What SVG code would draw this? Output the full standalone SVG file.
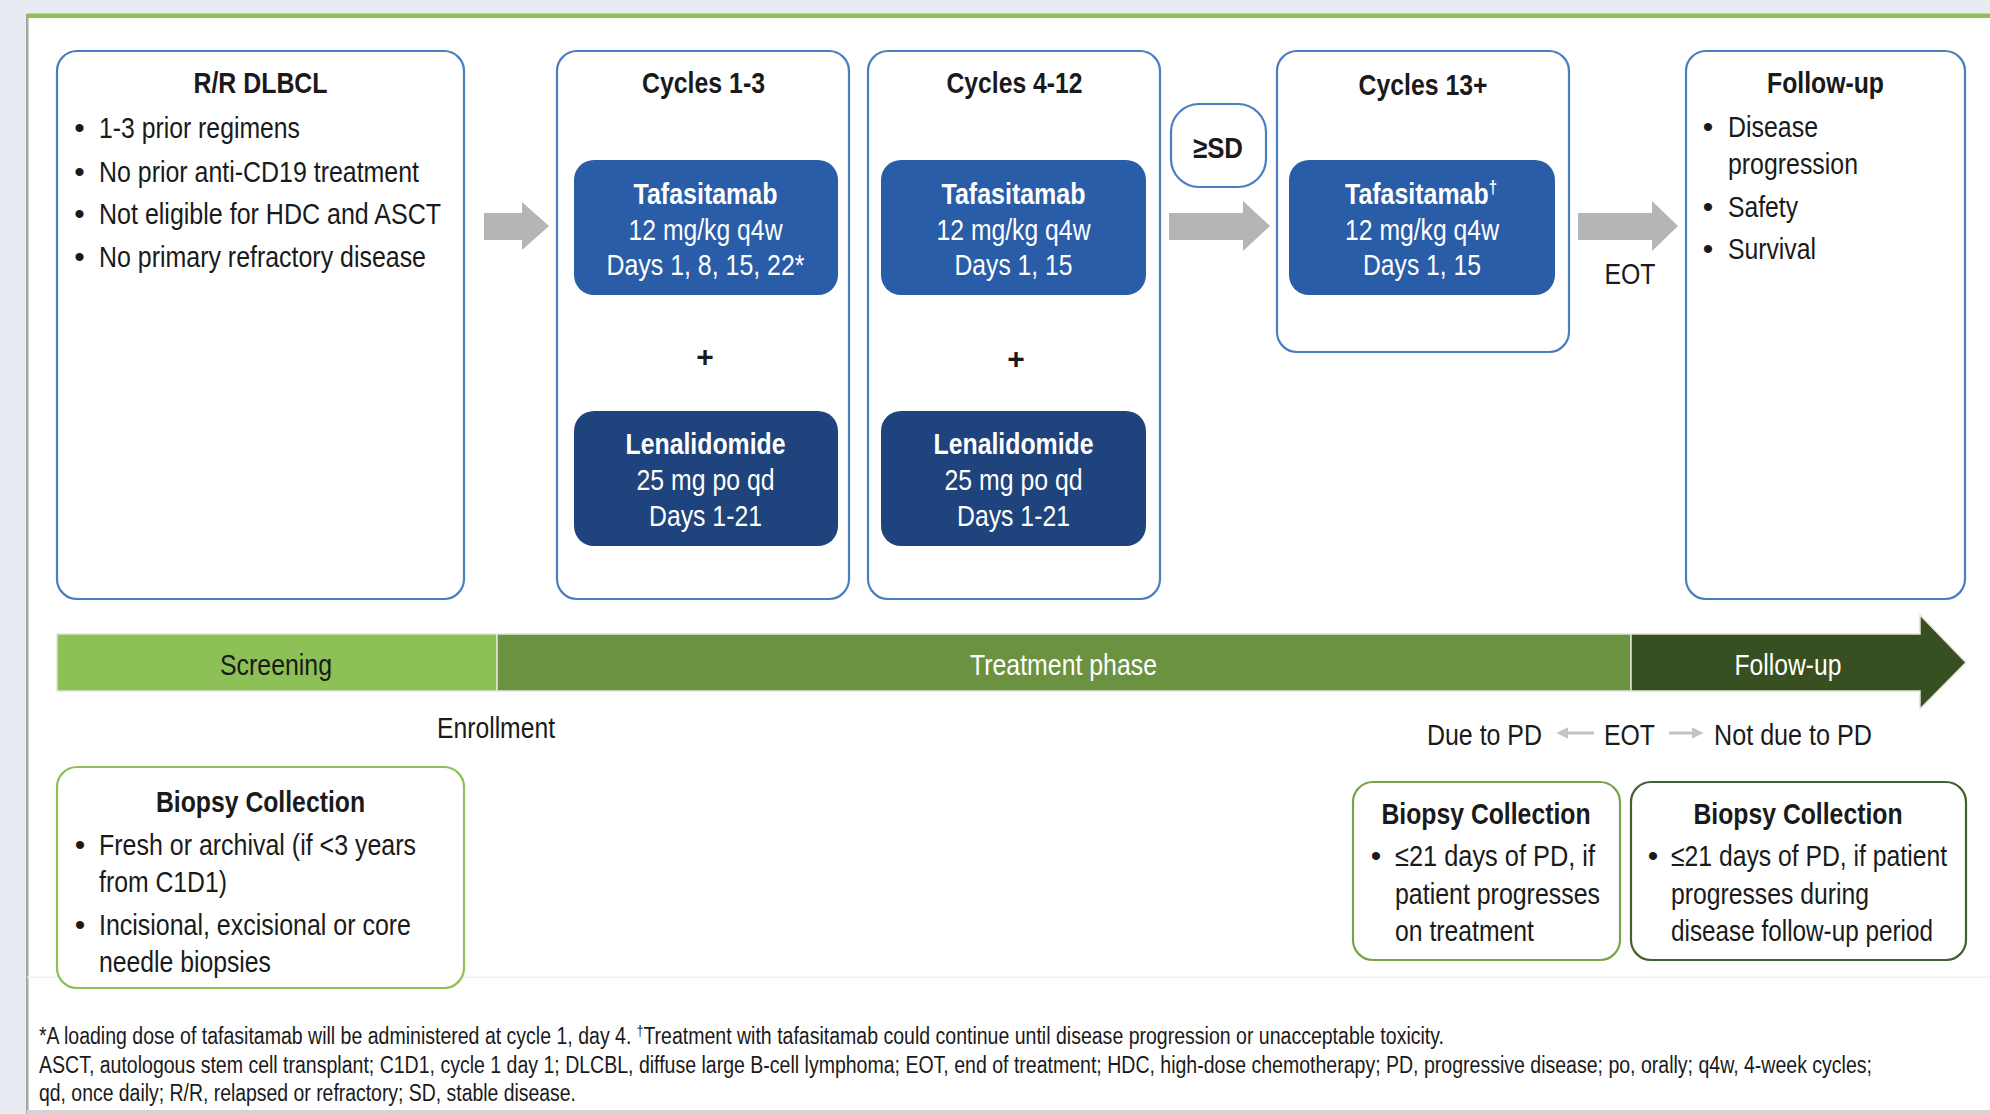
<svg xmlns="http://www.w3.org/2000/svg" width="1990" height="1114" viewBox="0 0 1990 1114">
<style>
.t{font-family:"Liberation Sans",Arial,sans-serif;font-size:30px;fill:#1a1a1a}
.b{font-weight:bold}
.w{fill:#ffffff}
.m{text-anchor:middle}
.fn{font-size:23px}
.bx{fill:#ffffff;stroke:#4a7ebf;stroke-width:2.2}
.tf{fill:#2a5da8}
.le{fill:#1f437c}
.arr{fill:#b5b5b5}
.sm{stroke:#c4c4c4;stroke-width:3;fill:none;marker-end:url(#ah)}
.g1{fill:#ffffff;stroke:#8dc056;stroke-width:2.2}
.g2{fill:#ffffff;stroke:#79a34b;stroke-width:2.2}
.g3{fill:#ffffff;stroke:#45602f;stroke-width:2.2}
.bar{stroke:#dfe5d9;stroke-width:1.5}
</style>
<defs>
<marker id="ah" viewBox="0 0 10 10" refX="2" refY="5" markerWidth="4" markerHeight="4" orient="auto" markerUnits="strokeWidth">
<path d="M0,0 L10,5 L0,10 z" fill="#c4c4c4"/>
</marker>
</defs>
<rect x="0" y="0" width="1990" height="1114" fill="#e8ecf2"/>
<rect x="27" y="14" width="1963" height="1097" fill="#ffffff"/>
<rect x="26" y="14" width="2.5" height="1100" fill="#a6a6a6"/>
<rect x="27" y="13.5" width="1963" height="4.5" fill="#8cc152"/>
<rect x="27" y="976.5" width="1963" height="1.5" fill="#efefef"/>
<rect x="27" y="1110" width="1963" height="4" fill="#d4d4d4"/>

<g id="node-rr-dlbcl">
<rect class="bx" x="57" y="51" width="407" height="548" rx="20"/>
<text class="t b m" x="260.5" y="93" textLength="134" lengthAdjust="spacingAndGlyphs">R/R DLBCL</text>
<text class="t m" x="79.5" y="138">•</text>
<text class="t" x="99" y="138" textLength="201" lengthAdjust="spacingAndGlyphs">1-3 prior regimens</text>
<text class="t m" x="79.5" y="182">•</text>
<text class="t" x="99" y="182" textLength="320" lengthAdjust="spacingAndGlyphs">No prior anti-CD19 treatment</text>
<text class="t m" x="79.5" y="224">•</text>
<text class="t" x="99" y="224" textLength="342" lengthAdjust="spacingAndGlyphs">Not eligible for HDC and ASCT</text>
<text class="t m" x="79.5" y="267">•</text>
<text class="t" x="99" y="267" textLength="327" lengthAdjust="spacingAndGlyphs">No primary refractory disease</text>
</g>

<g id="node-cycles-1-3">
<rect class="bx" x="557" y="51" width="292" height="548" rx="20"/>
<text class="t b m" x="703.5" y="93" textLength="123" lengthAdjust="spacingAndGlyphs">Cycles 1-3</text>
<rect class="tf" x="574" y="160" width="264" height="135" rx="20"/>
<text class="t b w m" x="705.5" y="204" textLength="144" lengthAdjust="spacingAndGlyphs">Tafasitamab</text>
<text class="t w m" x="705.5" y="240" textLength="154" lengthAdjust="spacingAndGlyphs">12 mg/kg q4w</text>
<text class="t w m" x="705.5" y="275" textLength="198" lengthAdjust="spacingAndGlyphs">Days 1, 8, 15, 22*</text>
<text class="t b m" x="705" y="367">+</text>
<rect class="le" x="574" y="411" width="264" height="135" rx="20"/>
<text class="t b w m" x="705.5" y="454" textLength="160" lengthAdjust="spacingAndGlyphs">Lenalidomide</text>
<text class="t w m" x="705.5" y="490" textLength="138" lengthAdjust="spacingAndGlyphs">25 mg po qd</text>
<text class="t w m" x="705.5" y="526" textLength="113" lengthAdjust="spacingAndGlyphs">Days 1-21</text>
</g>

<g id="node-cycles-4-12">
<rect class="bx" x="868" y="51" width="292" height="548" rx="20"/>
<text class="t b m" x="1014.5" y="93" textLength="136" lengthAdjust="spacingAndGlyphs">Cycles 4-12</text>
<rect class="tf" x="881" y="160" width="265" height="135" rx="20"/>
<text class="t b w m" x="1013.5" y="204" textLength="144" lengthAdjust="spacingAndGlyphs">Tafasitamab</text>
<text class="t w m" x="1013.5" y="240" textLength="154" lengthAdjust="spacingAndGlyphs">12 mg/kg q4w</text>
<text class="t w m" x="1013.5" y="275" textLength="118" lengthAdjust="spacingAndGlyphs">Days 1, 15</text>
<text class="t b m" x="1016" y="369">+</text>
<rect class="le" x="881" y="411" width="265" height="135" rx="20"/>
<text class="t b w m" x="1013.5" y="454" textLength="160" lengthAdjust="spacingAndGlyphs">Lenalidomide</text>
<text class="t w m" x="1013.5" y="490" textLength="138" lengthAdjust="spacingAndGlyphs">25 mg po qd</text>
<text class="t w m" x="1013.5" y="526" textLength="113" lengthAdjust="spacingAndGlyphs">Days 1-21</text>
</g>

<g id="node-sd">
<rect class="bx" x="1171" y="104" width="95" height="83" rx="28"/>
<text class="t b m" x="1218" y="158" textLength="50" lengthAdjust="spacingAndGlyphs">≥SD</text>
</g>

<g id="node-cycles-13">
<rect class="bx" x="1277" y="51" width="292" height="301" rx="20"/>
<text class="t b m" x="1423" y="95" textLength="129" lengthAdjust="spacingAndGlyphs">Cycles 13+</text>
<rect class="tf" x="1289" y="160" width="266" height="135" rx="20"/>
<text class="t b w m" x="1421" y="204" textLength="152" lengthAdjust="spacingAndGlyphs">Tafasitamab<tspan font-size="18" dy="-11">†</tspan></text>
<text class="t w m" x="1422" y="240" textLength="154" lengthAdjust="spacingAndGlyphs">12 mg/kg q4w</text>
<text class="t w m" x="1422" y="275" textLength="118" lengthAdjust="spacingAndGlyphs">Days 1, 15</text>
</g>

<g id="node-follow-up">
<rect class="bx" x="1686" y="51" width="279" height="548" rx="20"/>
<text class="t b m" x="1825.5" y="93" textLength="117" lengthAdjust="spacingAndGlyphs">Follow-up</text>
<text class="t m" x="1708" y="137">•</text>
<text class="t" x="1728" y="137" textLength="90" lengthAdjust="spacingAndGlyphs">Disease</text>
<text class="t" x="1728" y="174" textLength="130" lengthAdjust="spacingAndGlyphs">progression</text>
<text class="t m" x="1708" y="217">•</text>
<text class="t" x="1728" y="217" textLength="70" lengthAdjust="spacingAndGlyphs">Safety</text>
<text class="t m" x="1708" y="259">•</text>
<text class="t" x="1728" y="259" textLength="88" lengthAdjust="spacingAndGlyphs">Survival</text>
</g>

<g id="connectors">
<polygon class="arr" points="484,213 522,213 522,202 549,226 522,250 522,240 484,240"/>
<polygon class="arr" points="1169,213 1243,213 1243,201 1270,226 1243,251 1243,240 1169,240"/>
<polygon class="arr" points="1578,213 1652,213 1652,201 1678,226 1652,251 1652,240 1578,240"/>
<text class="t m" x="1630" y="284" textLength="51" lengthAdjust="spacingAndGlyphs">EOT</text>
<line class="sm" x1="1594" y1="733" x2="1566" y2="733"/>
<line class="sm" x1="1669" y1="733" x2="1694" y2="733"/>
</g>

<g id="timeline">
<rect class="bar" x="57" y="634" width="440" height="57" fill="#8dc056"/>
<rect class="bar" x="497" y="634" width="1134" height="57" fill="#6b9240"/>
<polygon class="bar" points="1631,634 1920,634 1920,615 1966,662.5 1920,709 1920,691 1631,691" fill="#374f21"/>
<text class="t m" x="276" y="675" textLength="112" lengthAdjust="spacingAndGlyphs">Screening</text>
<text class="t w m" x="1063.5" y="675" textLength="187" lengthAdjust="spacingAndGlyphs">Treatment phase</text>
<text class="t w m" x="1788" y="675" textLength="107" lengthAdjust="spacingAndGlyphs">Follow-up</text>
<text class="t m" x="496" y="738" textLength="118" lengthAdjust="spacingAndGlyphs">Enrollment</text>
</g>

<g id="node-eot-split">
<text class="t" x="1427" y="745" textLength="115" lengthAdjust="spacingAndGlyphs">Due to PD</text>
<text class="t" x="1604" y="745" textLength="51" lengthAdjust="spacingAndGlyphs">EOT</text>
<text class="t" x="1714" y="745" textLength="158" lengthAdjust="spacingAndGlyphs">Not due to PD</text>
</g>

<g id="node-biopsy-screening">
<rect class="g1" x="57" y="767" width="407" height="221" rx="20"/>
<text class="t b m" x="260.5" y="812" textLength="209" lengthAdjust="spacingAndGlyphs">Biopsy Collection</text>
<text class="t m" x="80" y="855">•</text>
<text class="t" x="99" y="855" textLength="317" lengthAdjust="spacingAndGlyphs">Fresh or archival (if &lt;3 years</text>
<text class="t" x="99" y="892" textLength="128" lengthAdjust="spacingAndGlyphs">from C1D1)</text>
<text class="t m" x="80" y="935">•</text>
<text class="t" x="99" y="935" textLength="312" lengthAdjust="spacingAndGlyphs">Incisional, excisional or core</text>
<text class="t" x="99" y="972" textLength="172" lengthAdjust="spacingAndGlyphs">needle biopsies</text>
</g>

<g id="node-biopsy-pd">
<rect class="g2" x="1353" y="782" width="267" height="178" rx="20"/>
<text class="t b m" x="1486" y="824" textLength="209" lengthAdjust="spacingAndGlyphs">Biopsy Collection</text>
<text class="t m" x="1376" y="866">•</text>
<text class="t" x="1395" y="866" textLength="200" lengthAdjust="spacingAndGlyphs">≤21 days of PD, if</text>
<text class="t" x="1395" y="903.5" textLength="205" lengthAdjust="spacingAndGlyphs">patient progresses</text>
<text class="t" x="1395" y="941" textLength="139" lengthAdjust="spacingAndGlyphs">on treatment</text>
</g>

<g id="node-biopsy-not-pd">
<rect class="g3" x="1631" y="782" width="335" height="178" rx="20"/>
<text class="t b m" x="1798" y="824" textLength="209" lengthAdjust="spacingAndGlyphs">Biopsy Collection</text>
<text class="t m" x="1653" y="866">•</text>
<text class="t" x="1671" y="866" textLength="276" lengthAdjust="spacingAndGlyphs">≤21 days of PD, if patient</text>
<text class="t" x="1671" y="903.5" textLength="198" lengthAdjust="spacingAndGlyphs">progresses during</text>
<text class="t" x="1671" y="941" textLength="262" lengthAdjust="spacingAndGlyphs">disease follow-up period</text>
</g>

<g id="footnotes">
<text class="t fn" x="39" y="1044" textLength="1405" lengthAdjust="spacingAndGlyphs">*A loading dose of tafasitamab will be administered at cycle 1, day 4. <tspan font-size="14" dy="-8">†</tspan><tspan dy="8">Treatment with tafasitamab could continue until disease progression or unacceptable toxicity.</tspan></text>
<text class="t fn" x="39" y="1073" textLength="1833" lengthAdjust="spacingAndGlyphs">ASCT, autologous stem cell transplant; C1D1, cycle 1 day 1; DLCBL, diffuse large B-cell lymphoma; EOT, end of treatment; HDC, high-dose chemotherapy; PD, progressive disease; po, orally; q4w, 4-week cycles;</text>
<text class="t fn" x="39" y="1101" textLength="537" lengthAdjust="spacingAndGlyphs">qd, once daily; R/R, relapsed or refractory; SD, stable disease.</text>
</g>
</svg>
